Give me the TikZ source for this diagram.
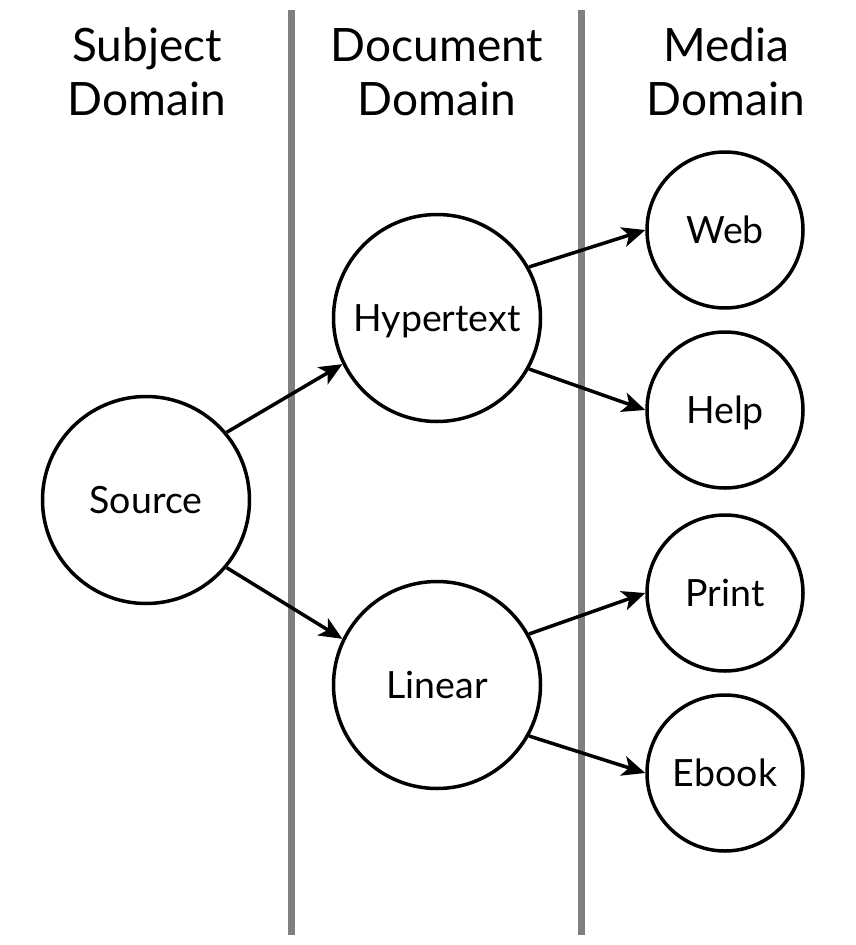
\documentclass[tikz,border=0pt]{standalone}
\usepackage{fontspec}
\setmainfont{Lato}
\usetikzlibrary{arrows.meta}
\begin{document}
\begin{tikzpicture}[x=1pt,y=-1pt,
  header/.style={font=\fontsize{46}{54}\selectfont, align=center, anchor=base, inner sep=0pt},
  divider/.style={draw=black!50, line width=7pt},
  bignode/.style={circle, draw, line width=3.5pt, minimum size=207pt, inner sep=0pt,
    font=\fontsize{37.5}{40}\selectfont, text height=27pt, text depth=0pt},
  smallnode/.style={bignode, minimum size=156pt},
  flow/.style={line width=3.5pt, -{Stealth[length=23pt,width=20pt,inset=6pt]}}
]
\useasboundingbox (0,0) rectangle (855,945);
% dividers
\coordinate (d1t) at (291.5,10);
\coordinate (d1b) at (291.5,935);
\coordinate (d2t) at (581.5,10);
\coordinate (d2b) at (581.5,935);
\draw[divider] (d1t) -- (d1b);
\draw[divider] (d2t) -- (d2b);
% headers
\node[header] (h1) at (147,115) {Subject\\Domain};
\node[header] (h2) at (437,115) {Document\\Domain};
\node[header] (h3) at (726,115) {Media\\Domain};
% nodes
\node[bignode] (src) at (146,500) {Source};
\node[bignode] (hyp) at (437,318) {Hypertext};
\node[bignode] (lin) at (437,685) {Linear};
\node[smallnode] (web) at (725,230) {Web};
\node[smallnode] (help) at (725,410) {Help};
\node[smallnode] (print) at (725,593) {Print};
\node[smallnode] (ebook) at (725,773) {Ebook};
% connectors
\draw[flow] (src.40) -- (hyp.206);
\draw[flow] (src.-40) -- (lin.154);
\draw[flow] (hyp.29) -- (web.west);
\draw[flow] (hyp.-29) -- (help.west);
\draw[flow] (lin.29) -- (print.west);
\draw[flow] (lin.-29) -- (ebook.west);
\end{tikzpicture}
\end{document}
